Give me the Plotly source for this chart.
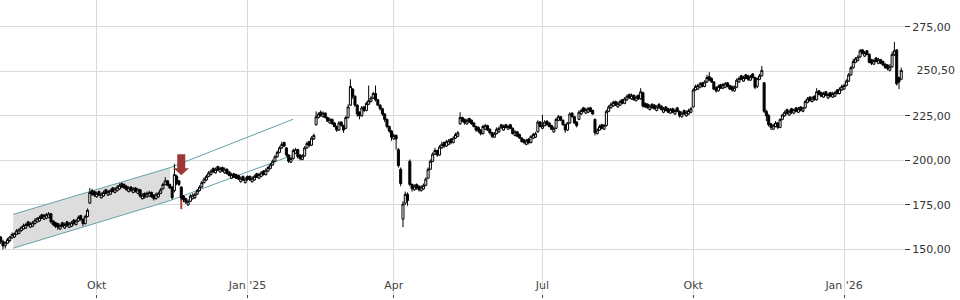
import pandas as pd
import plotly.graph_objects as go

# ---------------- data (daily candles) ----------------
trade_dates = pd.bdate_range("2024-08-01", "2026-02-05")

open_prices = [
    159.0,157.0,154.5,152.0,153.5,155.0,156.5,157.0,158.5,159.0,160.5,161.5,162.0,165.5,162.5,163.0,164.5,165.5,166.0,169.5,167.0,167.5,  # Aug 24
    168.0,170.0,166.0,165.0,164.5,161.5,165.0,162.0,165.5,162.5,163.0,166.5,164.0,166.0,169.0,167.0,164.5,168.5,176.0,183.0,182.5,  # Sep 24
    179.5,182.5,179.0,180.0,183.5,180.5,181.0,184.5,182.0,183.0,184.0,187.0,186.5,185.5,182.5,185.0,182.0,184.5,181.5,183.5,178.5,181.5,179.5,  # Oct 24
    180.0,182.0,180.5,178.5,179.5,181.5,184.0,186.5,188.5,186.5,185.0,183.0,191.0,188.5,185.0,180.0,178.5,175.0,177.0,178.5,179.0,  # Nov 24
    181.0,183.0,185.0,187.5,189.0,191.0,192.0,195.5,193.0,196.5,193.5,196.0,193.0,195.0,193.5,190.0,192.5,192.0,191.5,188.0,191.0,187.5,  # Dec 24
    191.0,191.0,188.0,189.0,192.5,190.0,191.0,194.0,192.0,194.0,195.5,197.5,199.5,202.0,204.5,207.0,210.0,207.0,203.0,199.0,201.0,204.0,206.0,  # Jan 25
    203.0,200.5,202.5,207.0,210.5,208.5,212.0,220.0,224.0,227.0,224.5,226.5,224.0,221.0,223.0,221.0,219.0,217.0,221.5,219.5,  # Feb 25
    218.0,224.0,231.0,240.0,236.0,231.0,227.0,225.0,230.0,228.0,231.5,233.0,235.0,237.5,234.0,231.0,229.0,226.0,223.0,219.0,216.5,  # Mar 25
    212.0,214.0,206.0,195.0,167.0,176.0,181.0,199.5,186.5,183.5,186.5,185.5,183.0,184.0,186.0,190.0,195.0,199.5,203.5,205.5,203.0,207.0,  # Apr 25
    210.0,208.0,209.0,212.0,210.0,212.5,213.5,220.5,224.0,223.0,220.5,223.5,222.5,221.0,219.0,218.5,217.0,215.0,217.5,219.5,217.5,215.5,  # May 25
    213.0,215.0,216.0,220.0,217.0,220.0,217.5,220.0,218.0,214.0,216.0,214.5,212.5,211.5,209.0,212.0,210.0,212.5,213.0,216.0,221.5,  # Jun 25
    218.0,219.5,222.0,221.0,219.5,216.0,218.0,222.5,224.5,222.5,220.0,217.0,221.0,226.5,224.5,221.5,223.0,226.0,229.5,226.5,227.0,229.5,228.0,  # Jul 25
    223.0,215.0,217.0,220.0,217.5,219.5,227.5,229.5,230.5,233.0,230.0,231.0,234.0,232.0,234.0,237.0,234.5,236.5,233.5,236.5,234.5,  # Aug 25
    238.0,232.0,231.5,228.5,231.5,231.0,228.0,231.5,230.5,227.0,230.0,229.0,226.5,229.0,226.0,229.5,227.5,224.5,228.0,225.0,226.0,227.0,  # Sep 25
    230.0,239.5,240.0,241.0,243.5,241.5,244.0,247.0,246.0,244.0,241.0,239.0,242.5,240.5,241.0,243.5,242.0,241.5,239.0,241.0,244.0,247.5,244.5,  # Oct 25
    248.0,247.5,245.0,248.5,246.5,241.5,245.5,247.5,243.5,227.5,225.0,220.5,217.5,219.0,221.0,218.5,223.0,225.0,228.5,225.5,  # Nov 25
    229.0,226.5,229.5,227.0,230.0,227.5,229.5,232.5,235.5,233.0,236.0,234.0,239.0,238.0,235.5,238.5,235.0,238.0,235.5,236.0,239.5,237.5,239.5,  # Dec 25
    240.0,242.0,244.5,248.0,252.0,255.0,256.0,258.0,262.0,258.5,261.5,259.5,256.5,254.0,257.5,254.5,256.5,255.5,254.0,253.5,250.5,252.5,  # Jan 26
    259.5,262.0,246.5,245.5,  # Feb 26
]

high_prices = [
    160.0,157.5,155.5,154.5,156.5,157.5,159.5,159.5,161.5,162.0,163.0,164.5,165.0,166.0,165.5,166.0,167.5,168.0,169.0,170.0,170.0,170.5,
    171.0,170.5,166.5,165.5,165.0,164.5,165.5,165.0,166.0,165.5,166.0,167.0,167.0,169.0,169.5,167.5,169.5,173.0,184.5,184.0,183.0,
    182.5,183.0,182.0,183.0,184.0,183.5,184.0,185.0,185.0,186.0,187.0,187.5,187.0,186.0,185.5,185.5,185.0,185.0,184.5,184.0,181.5,182.0,182.5,
    183.0,182.5,181.0,182.0,182.5,184.5,187.5,190.5,189.0,187.0,185.5,198.0,192.0,189.0,185.5,180.5,179.0,178.0,181.0,181.5,182.0,
    184.0,186.0,188.5,190.5,192.0,194.0,195.0,196.0,196.0,197.0,196.5,196.5,196.0,195.5,194.0,193.0,193.0,192.5,192.0,191.0,191.5,190.5,
    191.5,191.5,191.0,192.0,193.0,193.0,194.0,194.5,195.5,197.0,198.5,200.5,203.0,205.5,208.0,210.5,210.5,207.5,203.5,202.0,206.5,207.0,206.5,
    203.5,203.5,208.0,210.5,211.0,213.5,215.0,227.5,227.0,228.0,227.5,227.0,224.5,224.0,223.5,221.5,219.5,222.0,222.0,220.0,
    225.0,231.5,245.5,240.5,236.5,231.5,227.5,230.5,230.5,233.0,242.0,236.0,238.5,242.0,234.5,231.5,229.5,226.5,223.5,219.5,217.0,
    215.0,214.5,207.0,196.0,177.0,182.5,182.0,200.5,187.0,186.5,187.0,186.0,186.0,187.0,190.5,196.0,200.5,204.5,207.0,206.0,208.5,210.5,
    210.5,211.5,212.0,212.5,213.5,215.5,216.5,227.0,224.5,223.5,223.5,224.0,223.0,221.5,219.5,219.0,217.5,220.0,220.5,220.0,218.0,216.0,
    216.0,218.5,219.0,220.5,220.0,220.5,220.0,220.5,218.5,217.0,216.5,215.0,213.0,212.0,212.0,212.5,214.0,215.5,216.0,222.5,222.0,
    225.5,222.5,222.5,221.5,220.0,219.0,224.0,225.5,225.0,223.0,220.5,221.5,227.0,227.0,225.0,222.0,228.0,229.0,230.0,229.5,230.0,230.0,228.5,
    223.5,218.0,220.0,220.5,220.5,228.5,231.0,232.5,233.5,233.5,233.0,234.0,234.5,235.5,237.0,237.5,237.5,237.0,236.5,237.0,240.5,
    238.5,232.5,232.0,231.5,232.0,231.5,231.0,232.0,231.0,230.0,230.5,229.5,229.5,229.5,229.0,230.0,228.0,227.5,228.5,228.0,229.0,230.0,
    240.5,242.5,243.0,244.0,244.0,245.0,248.0,249.5,246.5,244.5,241.5,242.5,243.0,243.5,244.0,244.0,242.5,242.0,242.0,246.0,247.0,248.0,247.5,
    248.5,248.0,248.0,249.0,247.0,246.5,248.5,253.0,244.0,228.5,226.0,221.0,220.5,222.0,221.5,223.5,226.0,228.0,229.0,228.5,
    229.5,229.0,230.0,230.0,230.5,230.0,234.0,235.5,236.0,236.0,236.5,240.5,239.5,238.5,238.5,239.0,238.0,238.5,238.5,239.0,240.0,241.0,242.5,
    243.0,245.5,249.0,253.0,257.0,258.0,259.0,262.5,262.5,261.5,262.0,260.0,257.0,257.0,258.0,257.5,257.0,256.0,254.5,254.0,254.0,261.0,
    266.5,262.5,247.0,252.0,
]

low_prices = [
    156.5,153.0,150.0,150.5,153.0,154.0,156.0,156.5,158.0,158.5,160.0,161.0,161.5,163.0,162.0,162.5,164.0,165.0,165.5,167.0,166.5,167.0,
    167.5,164.5,163.0,162.0,161.0,161.0,162.5,161.5,162.5,162.0,162.5,163.5,163.5,165.5,166.0,163.0,164.0,168.0,175.5,180.0,179.5,
    179.0,180.0,178.5,179.5,181.0,180.0,180.5,182.0,181.5,182.5,183.5,184.5,184.0,183.0,182.0,182.5,181.5,182.0,181.0,179.0,178.0,178.5,179.0,
    179.5,179.0,177.5,178.0,179.0,181.0,183.5,186.0,185.5,184.0,178.0,182.0,186.0,185.5,177.5,176.5,175.5,174.5,176.5,178.0,178.5,
    180.5,182.5,184.5,187.0,188.5,190.5,191.5,193.0,192.5,194.0,193.0,193.5,192.5,192.0,191.0,189.5,190.0,189.5,189.0,187.5,188.5,187.0,
    188.5,188.5,187.5,188.5,190.0,189.5,190.5,191.5,191.5,193.5,195.0,197.0,199.0,201.5,204.0,206.5,207.5,202.0,198.5,198.5,200.5,203.5,201.0,
    200.0,200.0,202.0,206.5,207.5,208.0,211.5,219.5,223.5,224.5,224.0,223.5,221.5,220.5,220.0,218.5,216.0,216.5,219.0,215.5,
    217.5,223.5,230.5,234.5,230.0,224.5,223.0,224.5,227.0,227.5,231.0,232.5,234.5,233.0,230.5,228.0,225.0,221.5,218.0,215.5,211.0,
    211.5,206.0,196.0,185.5,162.5,175.0,174.5,185.5,182.5,183.0,183.5,182.5,182.5,183.5,185.5,189.5,194.5,199.0,203.0,202.0,202.5,206.5,
    207.0,207.5,208.5,209.0,209.5,212.0,213.0,220.0,221.5,220.0,220.0,221.0,220.0,218.5,216.0,215.5,214.0,214.5,217.0,216.5,214.5,212.5,
    212.5,214.5,215.5,217.5,216.5,218.0,217.0,217.5,214.5,213.5,213.0,212.0,210.0,209.0,208.5,209.0,209.5,212.0,212.5,215.5,218.5,
    217.5,219.0,219.5,218.5,217.0,215.5,217.5,222.0,222.0,219.5,215.5,216.5,220.5,224.0,220.5,218.5,222.5,225.5,227.0,226.0,226.5,227.0,225.5,
    214.0,214.5,216.5,217.5,217.0,219.0,227.0,229.0,230.0,230.5,229.5,230.5,231.5,231.5,233.5,234.5,234.0,233.5,233.0,234.0,234.0,
    229.5,229.5,229.0,228.0,229.0,228.5,227.5,229.0,228.0,226.5,227.5,226.5,226.0,226.5,225.5,227.0,224.0,224.0,225.5,224.5,225.5,226.5,
    229.5,239.0,239.5,240.5,241.0,241.0,243.5,244.5,243.5,239.5,238.0,238.5,240.0,240.0,240.5,241.0,239.5,238.5,238.5,240.5,243.5,245.0,244.0,
    245.5,244.5,244.5,246.0,240.0,240.5,245.0,247.0,226.5,222.0,219.0,217.0,217.0,218.5,217.5,218.0,222.5,224.5,225.5,225.0,
    226.0,226.0,227.0,226.5,227.5,227.0,229.0,232.0,233.0,232.5,233.5,233.5,236.5,235.5,235.0,236.0,234.5,235.5,235.0,235.5,237.0,237.0,239.0,
    239.5,241.5,244.0,247.5,251.5,254.5,255.5,257.5,259.5,258.0,259.0,254.5,253.5,253.5,255.0,254.0,254.0,253.0,251.5,250.5,250.0,252.0,
    258.5,242.0,240.0,245.0,
]

close_prices = [
    157.0,154.5,152.0,154.0,155.5,157.0,158.5,159.0,160.5,161.0,162.5,163.5,164.0,163.5,164.5,165.0,166.5,167.5,168.0,167.5,169.0,169.5,
    170.0,165.5,164.0,163.0,162.5,163.5,163.0,164.0,163.5,164.5,165.0,164.5,166.0,168.0,167.0,164.5,168.5,172.0,182.0,181.0,180.5,
    181.5,180.5,181.0,182.0,181.5,182.5,183.0,182.5,184.0,185.0,186.0,185.0,184.5,183.5,184.5,183.0,184.0,182.5,183.5,180.0,180.5,179.5,181.5,
    182.0,179.5,178.5,181.0,181.5,183.5,186.5,188.5,186.0,184.5,179.0,192.0,187.0,186.5,179.0,178.0,176.5,177.0,180.0,180.5,181.0,
    183.0,185.0,187.5,189.5,191.0,193.0,194.0,193.5,195.0,194.5,195.5,194.0,195.0,192.5,191.5,192.0,190.5,190.0,189.5,190.0,189.0,189.5,
    189.5,189.0,190.0,191.0,190.5,192.0,193.0,192.0,194.5,196.0,197.5,199.5,202.0,204.5,207.0,209.0,208.0,203.0,199.5,201.0,205.5,206.0,202.0,
    201.0,202.5,207.0,209.5,208.5,212.5,214.0,224.5,226.0,225.0,226.5,224.0,222.0,223.0,220.5,219.0,217.0,221.0,219.5,217.0,
    224.0,230.0,241.5,236.0,231.0,226.0,225.0,229.5,228.0,232.0,233.5,235.0,237.5,234.0,231.0,229.0,226.0,223.0,219.0,216.5,213.0,
    214.0,212.0,197.0,187.0,175.5,181.0,177.5,186.5,184.0,185.5,184.5,183.5,185.0,186.0,189.5,195.0,199.5,203.5,205.5,203.0,207.5,209.0,
    208.0,210.5,211.0,210.0,212.5,214.5,215.5,224.0,222.0,221.0,222.5,221.5,220.5,219.0,217.0,216.5,215.0,219.0,219.5,217.0,215.5,213.5,
    215.0,217.5,218.0,218.5,219.0,218.5,219.0,218.0,215.0,216.0,213.5,212.5,210.5,210.0,211.0,210.0,213.5,214.5,215.0,221.5,219.0,
    219.5,221.5,220.0,219.0,217.5,218.0,223.0,224.5,222.5,220.0,217.0,221.0,226.0,224.5,221.0,219.5,227.0,228.0,227.5,228.5,229.0,227.5,226.0,
    215.5,217.0,219.0,218.0,219.5,227.5,230.0,231.5,232.5,231.0,232.0,233.0,232.0,234.5,236.0,235.0,236.5,234.0,235.5,234.5,238.5,
    230.5,230.0,229.5,230.5,229.5,229.0,230.0,229.5,228.5,229.0,228.0,227.0,228.5,227.0,228.0,227.5,225.0,226.5,226.0,227.0,228.0,229.0,
    239.5,241.5,242.0,243.0,241.5,244.0,246.5,245.0,244.0,240.0,239.0,241.5,240.5,242.5,243.0,241.5,240.0,239.5,241.0,245.0,246.0,245.5,246.5,
    246.0,245.5,247.0,246.5,241.0,246.0,247.5,250.5,227.5,225.0,220.0,218.5,219.5,221.0,218.5,223.0,225.5,227.0,226.5,227.5,
    227.0,228.5,227.5,229.0,228.0,229.5,233.0,234.5,233.5,235.0,234.0,238.5,237.0,236.0,237.5,236.5,237.0,236.0,237.5,238.0,237.5,240.0,241.5,
    242.0,244.5,248.0,252.0,255.5,257.0,258.0,261.5,260.0,260.5,259.5,255.0,254.5,256.0,255.5,256.5,254.5,253.5,252.0,251.5,252.5,259.5,
    261.5,243.0,244.0,250.5,
]

# trend channel (anchor dates / price levels)
channel_dates = ["2024-08-09 12:00", "2024-11-14 02:00", "2025-01-29"]
channel_upper = [169.7, 195.9, 223.1]
channel_lower = [150.7, 177.4, 203.0]

# sell signal
signal_date = "2024-11-21"
signal_wick = [184.9, 172.6]
signal_arrow_tip = 191.6

last_price = 250.5
x_tick_dates = ["2024-10-01", "2025-01-01", "2025-04-01", "2025-07-01", "2025-10-01", "2026-01-01"]
x_tick_text = ["Okt", "Jan '25", "Apr", "Jul", "Okt", "Jan '26"]
y_tick_values = [125, 150, 175, 200, 225, 250, 275]

# ---------------- figure ----------------
n = min(len(trade_dates), len(open_prices), len(high_prices), len(low_prices), len(close_prices))
print("lengths", len(trade_dates), len(open_prices), len(high_prices), len(low_prices), len(close_prices))
x = trade_dates[:n]


def pd_(d):
    # dates inside shape paths use "_" between date and time
    return str(d).replace(" ", "_")


fig = go.Figure()

fig.add_trace(go.Candlestick(
    x=x, open=open_prices[:n], high=high_prices[:n], low=low_prices[:n], close=close_prices[:n],
    increasing=dict(line=dict(color="#000000", width=1), fillcolor="#ffffff"),
    decreasing=dict(line=dict(color="#000000", width=1), fillcolor="#000000"),
    whiskerwidth=0,
))

# channel fill (between grid and candles)
fill_path = (
    f"M {pd_(channel_dates[0])},{channel_upper[0]} L {pd_(channel_dates[1])},{channel_upper[1]} "
    f"L {pd_(channel_dates[1])},{channel_lower[1]} L {pd_(channel_dates[0])},{channel_lower[0]} Z"
)
fig.add_shape(type="path", xref="x", yref="y", path=fill_path,
              fillcolor="#dddddd", line=dict(width=0), layer="between")
for ys in (channel_upper, channel_lower):
    p = "M " + " L ".join(f"{pd_(d)},{v}" for d, v in zip(channel_dates, ys))
    fig.add_shape(type="path", xref="x", yref="y", path=p,
                  fillcolor="rgba(0,0,0,0)", line=dict(color="#62a3aa", width=1), layer="between")

# red signal wick (behind the candle)
fig.add_shape(type="line", xref="x", yref="y", x0=signal_date, x1=signal_date,
              y0=signal_wick[0], y1=signal_wick[1],
              line=dict(color="#b5443f", width=2), layer="between")

# block arrow (pixel-sized, anchored at the signal)
fig.add_shape(
    type="path", xref="x", yref="y", xsizemode="pixel", ysizemode="pixel",
    xanchor=signal_date, yanchor=signal_arrow_tip,
    path="M 0,0 L -7.7,7 L -4,7 L -4,21 L 4,21 L 4,7 L 7.7,7 Z",
    fillcolor="#9b3a35", line=dict(width=0), layer="above",
)

fig.add_annotation(
    xref="paper", x=1, yref="y", y=last_price, xanchor="left", yanchor="middle",
    text=f"{last_price:.2f}".replace(".", ","), showarrow=False,
    bgcolor="white", width=50, align="right", borderpad=0,
    font=dict(family="DejaVu Sans", size=11, color="#333333"),
)

y_tick_text = ["" if v == 250 else f"{v:.2f}".replace(".", ",") for v in y_tick_values]

fig.update_layout(
    width=960, height=300,
    margin=dict(l=0, r=56, t=0, b=6),
    paper_bgcolor="white", plot_bgcolor="white",
    showlegend=False,
    font=dict(family="DejaVu Sans", size=11, color="#333333"),
    boxgap=0.12, boxgroupgap=0,
    xaxis=dict(
        type="date",
        range=["2024-08-01 16:48", "2026-02-06 04:48"],
        rangebreaks=[dict(bounds=["sat", "mon"])],
        rangeslider=dict(visible=False),
        tickmode="array", tickvals=x_tick_dates, ticktext=x_tick_text,
        ticklabelposition="inside", ticks="outside", ticklen=3, tickcolor="#444444",
        showgrid=True, gridcolor="#dadada", gridwidth=1,
        showline=False, zeroline=False,
    ),
    yaxis=dict(
        side="right", range=[125, 290],
        tickmode="array", tickvals=y_tick_values, ticktext=y_tick_text,
        ticks="outside", ticklen=5, tickcolor="#333333",
        showgrid=True, gridcolor="#dadada", gridwidth=1,
        showline=False, zeroline=False,
    ),
)

fig.write_html("out.html")
